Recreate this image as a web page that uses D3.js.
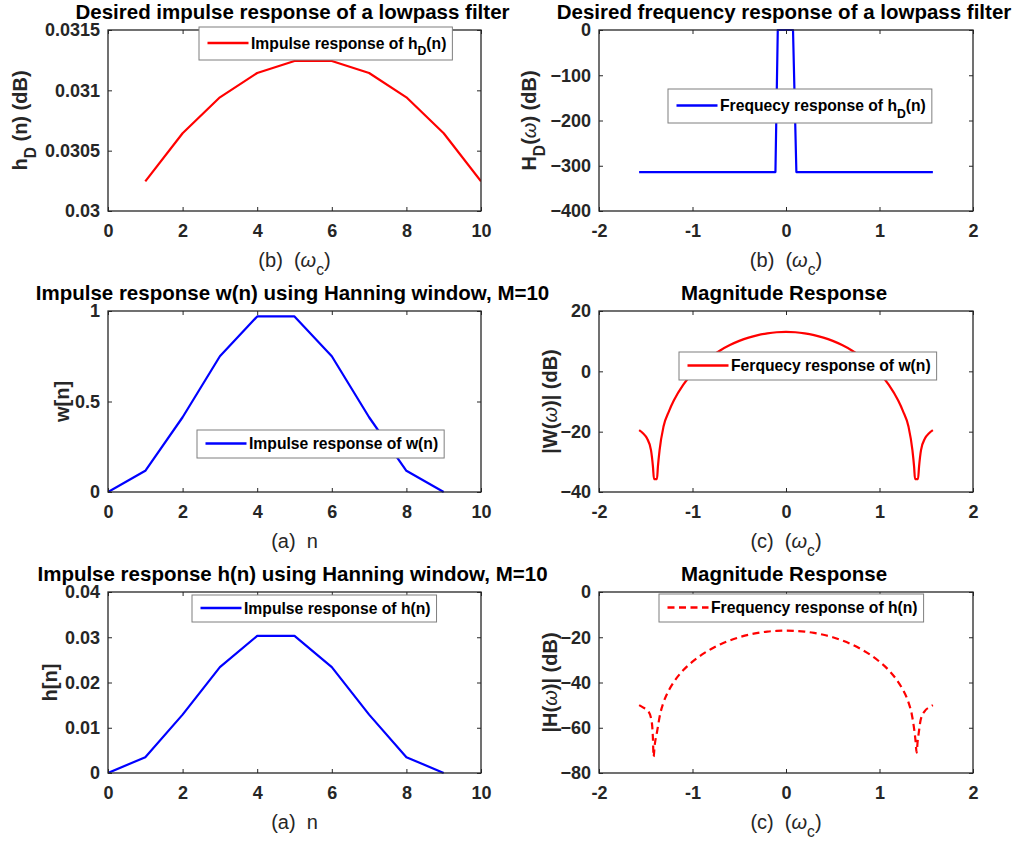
<!DOCTYPE html>
<html><head><meta charset="utf-8">
<script src="https://cdn.jsdelivr.net/npm/d3@7"></script>
<style>
body{margin:0;background:#fff}
text{font-family:"Liberation Sans",Arial,Helvetica,sans-serif; white-space:pre}
</style>
</head><body><svg id="c" width="1018" height="842"></svg>
<script>
// ---------------- data ----------------
const hdN = [1,2,3,4,5,6,7,8,9,10];
const hdVals = [0.030246,0.030644,0.030942,0.031144,0.031243,0.031243,0.031144,0.030942,0.030644,0.030246];

const hdFreqW  = [-1.5708,-0.113,-0.088,0.075,0.111,1.5708];
const hdFreqDb = [-314,-314,0,0,-314,-314];

const winN = [0,1,2,3,4,5,6,7,8,9];
const winVals = [0,0.117,0.413,0.75,0.970,0.970,0.75,0.413,0.117,0];

const winFreqW  = [-1.5708,-1.53,-1.487,-1.444,-1.423,-1.412,-1.38,-1.37,-1.352,-1.31,-1.25,-1.2,-1.1,-1.0,-0.9,-0.8,-0.7,-0.6,-0.5,-0.4,-0.3,-0.2,-0.1,0,
                   0.1,0.2,0.3,0.4,0.5,0.6,0.7,0.8,0.9,1.0,1.1,1.2,1.25,1.31,1.352,1.37,1.38,1.412,1.423,1.444,1.487,1.53,1.5708];
const winFreqDb = [-19.5,-20.5,-22.2,-26.1,-31.6,-35.7,-35.7,-31.6,-26.1,-18.3,-13.1,-9.7,-4.5,-0.65,2.43,4.94,7.01,8.71,10.09,11.19,12.02,12.6,12.95,13.06,
                   12.95,12.6,12.02,11.19,10.09,8.71,7.01,4.94,2.43,-0.65,-4.5,-9.7,-13.1,-18.3,-26.1,-31.6,-35.7,-35.7,-31.6,-26.1,-22.2,-20.5,-19.5];

const hN = [0,1,2,3,4,5,6,7,8,9];
const hVals = [0,0.0035,0.0129,0.0234,0.0303,0.0303,0.0234,0.0129,0.0035,0];

const hFreqW  = [-1.5708,-1.53,-1.47,-1.434,-1.424,-1.416,-1.405,-1.38,-1.345,-1.31,-1.25,-1.2,-1.1,-1.0,-0.9,-0.8,-0.7,-0.6,-0.5,-0.4,-0.3,-0.2,-0.1,0,
                 0.1,0.2,0.3,0.4,0.5,0.6,0.7,0.8,0.9,1.0,1.1,1.2,1.25,1.31,1.345,1.372,1.386,1.397,1.408,1.419,1.44,1.486,1.53,1.5708];
const hFreqDb = [-50,-51,-52.8,-58,-64,-72.8,-68,-62,-53.8,-48.8,-43.2,-39.8,-34.6,-30.8,-27.7,-25.2,-23.1,-21.4,-20.0,-18.9,-18.1,-17.5,-17.2,-17.05,
                 -17.2,-17.5,-18.1,-18.9,-20.0,-21.4,-23.1,-25.2,-27.7,-30.8,-34.6,-39.8,-43.2,-48.8,-54,-61,-66,-71,-66,-62.5,-56.6,-52.5,-51,-50];

const nTicks = [0,2,4,6,8,10];
const wTicks = [-2,-1,0,1,2];
const hdTicks = [0.03,0.0305,0.031,0.0315];
const hdTickLabels = ['0.03','0.0305','0.031','0.0315'];
const hdFreqTicks = [-400,-300,-200,-100,0];
const winTicks = [0,0.5,1];
const winFreqTicks = [-40,-20,0,20];
const hTicks = [0,0.01,0.02,0.03,0.04];
const hFreqTicks = [-80,-60,-40,-20,0];

const titles = ['Desired impulse response of a lowpass filter','Desired frequency response of a lowpass filter',
  'Impulse response w(n) using Hanning window, M=10','Magnitude Response',
  'Impulse response h(n) using Hanning window, M=10','Magnitude Response'];

// ---------------- layout ----------------
const svg = d3.select('#c');
const cols = [{l:108,r:481},{l:599,r:973}];
const rows = [{t:30,b:211},{t:311,b:492},{t:592,b:773}];
const AX = '#262626';

const xlabB = [{t:'(b)  ('},{t:'ω',it:1},{t:'c',sub:1},{t:')'}];
const xlabA = [{t:'(a)  n'}];
const xlabC = [{t:'(c)  ('},{t:'ω',it:1},{t:'c',sub:1},{t:')'}];

const panels = [
 {c:0,r:0,xd:[0,10],xt:nTicks,yd:[0.03,0.0315],yt:hdTicks,ytl:hdTickLabels,x:hdN,y:hdVals,color:'#ff0000',
  title:titles[0],xl:xlabB,yl:[{t:'h'},{t:'D',sub:1},{t:' (n) (dB)'}],ylx:20,
  leg:{x:199,cy:43.5,h:33,lab:[{t:'Impulse response of h'},{t:'D',sub:1},{t:'(n)'}]}},
 {c:1,r:0,xd:[-2,2],xt:wTicks,yd:[-400,0],yt:hdFreqTicks,x:hdFreqW,y:hdFreqDb,color:'#0000ff',
  title:titles[1],xl:xlabB,yl:[{t:'H'},{t:'D',sub:1},{t:'('},{t:'ω',it:1},{t:') (dB)'}],ylx:529,
  leg:{x:668,cy:106,h:34,lab:[{t:'Frequecy response of h'},{t:'D',sub:1},{t:'(n)'}]}},
 {c:0,r:1,xd:[0,10],xt:nTicks,yd:[0,1],yt:winTicks,x:winN,y:winVals,color:'#0000ff',
  title:titles[2],xl:xlabA,yl:[{t:'w[n]'}],ylx:62,
  leg:{x:197,cy:444,h:28,lab:[{t:'Impulse response of w(n)'}]}},
 {c:1,r:1,xd:[-2,2],xt:wTicks,yd:[-40,20],yt:winFreqTicks,x:winFreqW,y:winFreqDb,color:'#ff0000',smooth:1,
  title:titles[3],xl:xlabC,yl:[{t:'|W('},{t:'ω',it:1},{t:')| (dB)'}],ylx:550,
  leg:{x:679,cy:366,h:28,lab:[{t:'Ferquecy response of w(n)'}]}},
 {c:0,r:2,xd:[0,10],xt:nTicks,yd:[0,0.04],yt:hTicks,x:hN,y:hVals,color:'#0000ff',
  title:titles[4],xl:xlabA,yl:[{t:'h[n]'}],ylx:50,
  leg:{x:192,cy:608.5,h:27,lab:[{t:'Impulse response of h(n)'}]}},
 {c:1,r:2,xd:[-2,2],xt:wTicks,yd:[-80,0],yt:hFreqTicks,x:hFreqW,y:hFreqDb,color:'#ff0000',smooth:1,dash:'7,4.5',
  title:titles[5],xl:xlabC,yl:[{t:'|H('},{t:'ω',it:1},{t:')| (dB)'}],ylx:550,
  leg:{x:659,cy:608,h:28,lab:[{t:'Frequency response of h(n)'}]}},
];

function rich(sel, segs, fs){
  segs.forEach((s,i)=>{
    const ts = sel.append('tspan').text(s.t);
    if(s.it) ts.attr('font-style','italic').attr('font-weight','normal');
    if(s.sub){ ts.attr('font-size', fs*0.78).attr('dy', fs*0.42); }
    else if(i>0 && segs[i-1].sub){ ts.attr('dy', -fs*0.42); }
  });
}

panels.forEach(p=>{
  const {l,r} = cols[p.c], {t,b} = rows[p.r];
  const x = d3.scaleLinear().domain(p.xd).range([l,r]);
  const y = d3.scaleLinear().domain(p.yd).range([b,t]);
  const g = svg.append('g');

  // series
  const pts = p.x.map((v,i)=>[v,p.y[i]]);
  const line = d3.line().x(d=>x(d[0])).y(d=>y(d[1]));
  if(p.smooth) line.curve(d3.curveMonotoneX);
  const cp = 'clip'+p.c+p.r;
  svg.append('clipPath').attr('id',cp).append('rect').attr('x',l).attr('y',t-2).attr('width',r-l).attr('height',b-t+4);
  g.append('path').attr('d',line(pts)).attr('fill','none').attr('stroke',p.color)
    .attr('stroke-width',2.2).attr('stroke-linejoin','round')
    .attr('stroke-dasharray',p.dash||null).attr('clip-path',`url(#${cp})`);

  // axes
  const fmt = p.ytl ? (d,i)=>p.ytl[i] : d3.format('');
  const ax = [
    [d3.axisBottom(x).tickValues(p.xt).tickFormat(d=>String(d)), b],
    [d3.axisTop(x).tickValues(p.xt).tickFormat(''), t],
  ];
  ax.forEach(([a,pos])=>{
    const s = g.append('g').attr('transform',`translate(0,${pos})`)
      .call(a.tickSizeInner(-4).tickSizeOuter(0).tickPadding(13.7));
    s.select('.domain').remove();
  });
  [[d3.axisLeft(y).tickValues(p.yt).tickFormat(fmt), l],[d3.axisRight(y).tickValues(p.yt).tickFormat(''), r]].forEach(([a,pos])=>{
    const s = g.append('g').attr('transform',`translate(${pos},0)`)
      .call(a.tickSizeInner(-4).tickSizeOuter(0).tickPadding(8));
    s.select('.domain').remove();
  });
  g.selectAll('.tick line').attr('stroke',AX).attr('stroke-width',1);
  g.selectAll('.tick text').attr('fill',AX).attr('font-size',18).attr('font-weight','bold')
    .attr('font-family','"Liberation Sans",Arial,sans-serif');
  g.append('rect').attr('x',l).attr('y',t).attr('width',r-l).attr('height',b-t)
    .attr('fill','none').attr('stroke',AX).attr('stroke-width',1.3);

  // title
  g.append('text').attr('x',(l+r)/2-2).attr('y',t-11).attr('text-anchor','middle')
    .attr('font-size',20.5).attr('font-weight','bold').attr('fill','#000').text(p.title);
  // xlabel
  const xt = g.append('text').attr('x',(l+r)/2).attr('y',b+56).attr('text-anchor','middle')
    .attr('font-size',20).attr('fill',AX);
  rich(xt,p.xl,20);
  // ylabel
  const yt = g.append('text').attr('transform',`translate(${p.ylx+0.36*20},${(t+b)/2}) rotate(-90)`)
    .attr('text-anchor','middle').attr('font-size',20).attr('font-weight','bold').attr('fill',AX);
  rich(yt,p.yl,20);

  // legend
  const L = p.leg;
  const lg = g.append('g');
  const box = lg.append('rect').attr('x',L.x).attr('y',L.cy-L.h/2).attr('height',L.h)
    .attr('fill','#fff').attr('stroke','#7f7f7f').attr('stroke-width',1);
  lg.append('line').attr('x1',L.x+8.5).attr('x2',L.x+49.5).attr('y1',L.cy-0.5).attr('y2',L.cy-0.5)
    .attr('stroke',p.color).attr('stroke-width',2.6).attr('stroke-dasharray',p.dash||null);
  const lt = lg.append('text').attr('x',L.x+52).attr('y',L.cy+5.3).attr('font-size',15.7)
    .attr('font-weight','bold').attr('fill','#000');
  rich(lt,L.lab,15.7);
  const tw = lt.node().getComputedTextLength();
  box.attr('width',52+tw+6);
});
</script>
</body></html>
